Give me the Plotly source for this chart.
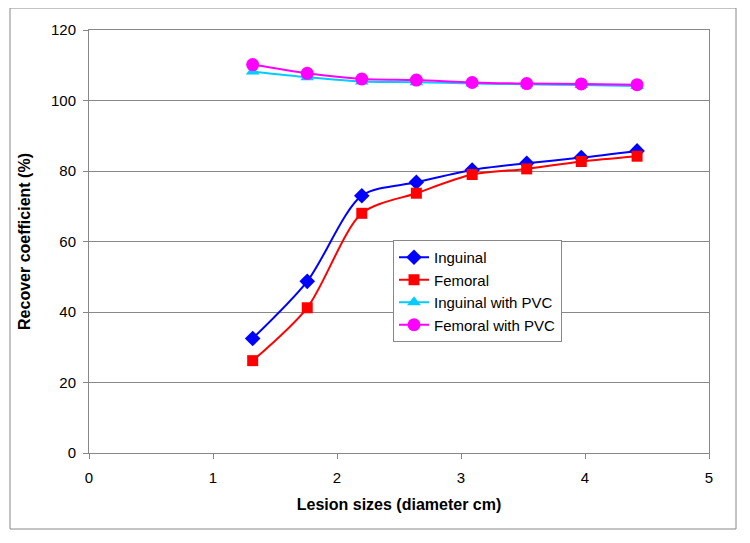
import plotly.graph_objects as go

lesion_size = [1.32, 1.76, 2.2, 2.64, 3.09, 3.53, 3.97, 4.42]
inguinal = [32.5, 48.7, 73.0, 76.8, 80.3, 82.2, 83.8, 85.7]
femoral = [26.2, 41.2, 68.0, 73.7, 79.0, 80.6, 82.7, 84.2]
inguinal_pvc = [108.2, 106.6, 105.4, 105.2, 104.8, 104.6, 104.4, 104.1]
femoral_pvc = [110.2, 107.7, 106.1, 105.8, 105.1, 104.8, 104.7, 104.5]

series = [
    ("Inguinal", inguinal, "#0000FF", "diamond", 12),
    ("Femoral", femoral, "#FF0000", "square", 11),
    ("Inguinal with PVC", inguinal_pvc, "#00CCFF", "triangle-up", 12),
    ("Femoral with PVC", femoral_pvc, "#FF00FF", "circle", 13),
]

fig = go.Figure()
for name, vals, color, sym, size in series:
    fig.add_trace(go.Scatter(
        x=lesion_size, y=vals, name=name, mode="lines+markers",
        line=dict(color=color, width=2, shape="spline", smoothing=0.8),
        marker=dict(symbol=sym, size=size, color=color),
    ))

# page body has an 8px margin, so the figure is placed at (8, 8)
W, H = 742, 535
l, t = 81, 22
pw, ph = 620, 423
r, b = W - l - pw, H - t - ph
off = 8
FONT = "Liberation Sans, Arial, sans-serif"
title_font = dict(family=FONT, size=16, color="black")

fig.update_layout(
    width=W, height=H,
    margin=dict(l=l, r=r, t=t, b=b),
    paper_bgcolor="white", plot_bgcolor="white",
    font=dict(family=FONT, size=15, color="black"),
    showlegend=True,
    legend=dict(
        x=(393 - off - l) / pw, y=(t + ph - (240 - off)) / ph, xanchor="left", yanchor="top",
        bgcolor="white", bordercolor="#888888", borderwidth=1,
        font=dict(family=FONT, size=15), tracegroupgap=0, itemwidth=30,
    ),
    xaxis=dict(
        range=[0, 5], dtick=1, showgrid=False, zeroline=False,
        showline=True, linecolor="#888888", linewidth=1, mirror=True,
        ticks="outside", tickcolor="#888888", ticklen=5, ticklabelstandoff=6,
        tickfont=dict(family=FONT, size=15),
        title=dict(text="<b>Lesion sizes (diameter cm)</b>", standoff=13, font=title_font),
    ),
    yaxis=dict(
        range=[0, 120], dtick=20, showgrid=True, gridcolor="#888888", gridwidth=1,
        zeroline=False, showline=True, linecolor="#888888", linewidth=1, mirror=True,
        ticks="outside", tickcolor="#888888", ticklen=5, ticklabelstandoff=4,
        tickfont=dict(family=FONT, size=15),
        title=dict(text="<b>Recover coefficient (%)</b>", standoff=16, font=title_font),
    ),
    shapes=[dict(
        type="rect", xref="paper", yref="paper",
        x0=(10 - off - l) / pw, x1=(736 - off - l) / pw,
        y0=(t + ph - (529 - off)) / ph, y1=(t + ph - (8 - off)) / ph,
        line=dict(color="#888888", width=1), fillcolor="rgba(0,0,0,0)", layer="below",
    )],
)

fig.write_html("out.html")
